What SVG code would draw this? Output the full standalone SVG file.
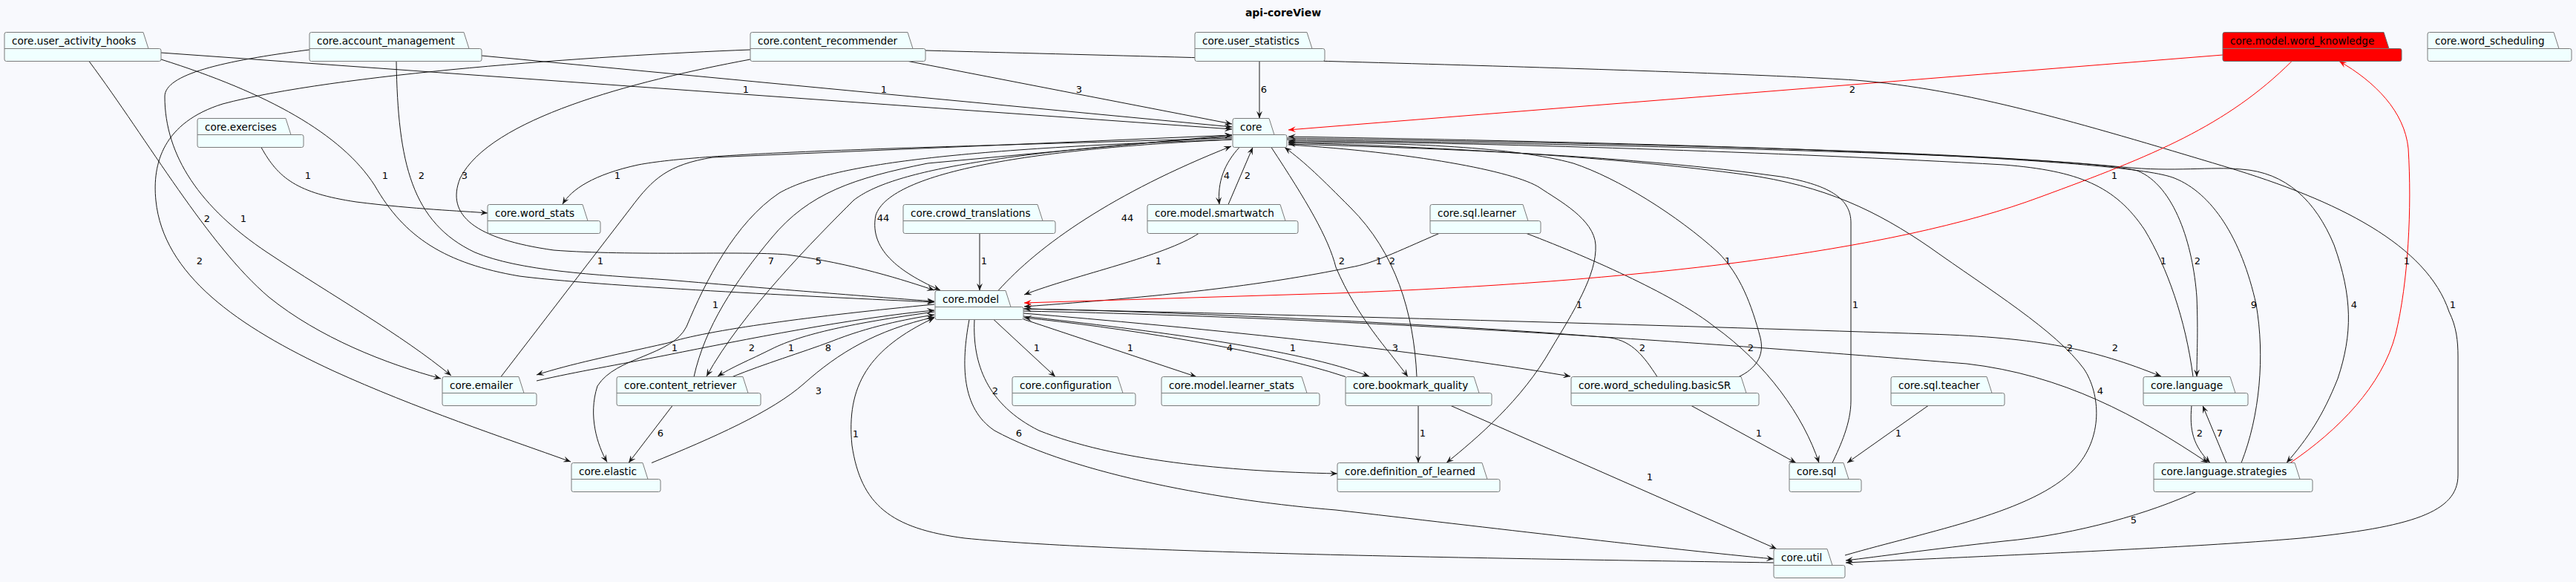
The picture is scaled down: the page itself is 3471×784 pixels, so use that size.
<svg xmlns="http://www.w3.org/2000/svg" width="3471" height="784" viewBox="0 0 3471 784">
<style>
.pk{fill:#F0FFFF;stroke:#7A7A7A;stroke-width:1}
.pkr{fill:#FF0000;stroke:#6A6A6A;stroke-width:1}
.sep{fill:none;stroke:#7A7A7A;stroke-width:1}
.t{font-family:"DejaVu Sans",sans-serif;font-size:13.6px;fill:#000}
.e{fill:none;stroke:#181818;stroke-width:1;marker-end:url(#a)}
.er{fill:none;stroke:#FF0000;stroke-width:1;marker-end:url(#ar)}
.l{font-family:"DejaVu Sans",sans-serif;font-size:13px;fill:#000;text-anchor:middle}
.title{font-family:"DejaVu Sans",sans-serif;font-size:14px;font-weight:bold;fill:#000;text-anchor:middle}
</style>
<defs>
<marker id="a" viewBox="0 0 10 8" refX="10" refY="4" markerWidth="10" markerHeight="8" markerUnits="userSpaceOnUse" orient="auto"><path d="M0,0L10,4L0,8L4,4Z" fill="#181818"/></marker>
<marker id="ar" viewBox="0 0 10 8" refX="10" refY="4" markerWidth="10" markerHeight="8" markerUnits="userSpaceOnUse" orient="auto"><path d="M0,0L10,4L0,8L4,4Z" fill="#FF0000"/></marker>
</defs>
<rect width="3471" height="784" fill="#F8F9FD"/>
<text class="title" x="1729" y="22">api-coreView</text>

<g id="connectors">
<path class="e" d="M217,71L1660,174"/><text class="l" x="1005" y="125">1</text>
<path class="e" d="M649,75L1660,171"/><text class="l" x="1191" y="125">1</text>
<path class="e" d="M1224,82.5L1660,167"/><text class="l" x="1454" y="125">3</text>
<path class="e" d="M1697,82.5L1697,159.5"/><text class="l" x="1703" y="125">6</text>
<path class="er" d="M2995,74L1736,175"/><text class="l" x="2496" y="125">2</text>
<path class="e" d="M1011,80C850,110 660,160 620,240C600,290 640,322 746,337C850,345 1000,338 1060,343C1150,355 1220,378 1259,391"/><text class="l" x="626" y="241">3</text>
<path class="e" d="M534,82.5C536,220 555,300 640,340C700,365 800,370 900,377C1050,390 1180,400 1259,406"/><text class="l" x="568" y="241">2</text>
<path class="e" d="M217,80C360,125 460,180 505,250C545,320 600,355 700,372C800,385 1100,400 1259,407"/><text class="l" x="519" y="241">1</text>
<path class="e" d="M120,82.5C200,190 280,330 362,400C430,455 520,490 594,510"/><text class="l" x="279" y="299">2</text>
<path class="e" d="M417,67C300,82 222,100 222,130C222,210 270,280 360,340C450,400 540,450 608,506"/><text class="l" x="328" y="299">1</text>
<path class="e" d="M1011,67C800,75 450,100 300,140C220,165 205,220 210,270C220,370 320,440 450,500C560,550 680,590 769,622"/><text class="l" x="269" y="356">2</text>
<path class="e" d="M352,198.5C375,240 400,260 480,272C560,282 620,284 657,287"/><text class="l" x="415" y="241">1</text>
<path class="e" d="M1660,186C1200,200 950,205 860,222C800,235 770,255 758,275"/><text class="l" x="832" y="241">1</text>
<path class="e" d="M675,507.5L850,280C880,240 900,222 960,212L1660,182"/><text class="l" x="809" y="356">1</text>
<path class="e" d="M1660,188C1300,200 1120,220 1050,260C990,300 950,380 925,440C905,480 830,480 805,520C792,560 805,600 818,622.5"/><text class="l" x="964" y="415">1</text>
<path class="e" d="M935,507.5C950,440 990,380 1040,320C1090,260 1150,240 1250,220L1660,182"/><text class="l" x="1039" y="356">7</text>
<path class="e" d="M1660,184C1350,205 1200,230 1150,270C1100,320 1000,420 952,507"/><text class="l" x="1103" y="356">5</text>
<path class="e" d="M1659,188C1400,200 1200,230 1180,290C1170,340 1220,370 1267,391"/><text class="l" x="1190" y="298">44</text>
<path class="e" d="M1345,391.5C1400,330 1500,260 1659,197"/><text class="l" x="1519" y="298">44</text>
<path class="e" d="M1320,314.5L1320,391.5"/><text class="l" x="1326" y="356">1</text>
<path class="e" d="M1615,314.5C1570,345 1450,370 1380,397"/><text class="l" x="1561" y="356">1</text>
<path class="e" d="M1670,198.5C1650,220 1640,245 1643,275.5"/><text class="l" x="1653" y="241">4</text>
<path class="e" d="M1655,275.5L1688,198.5"/><text class="l" x="1681" y="241">2</text>
<path class="e" d="M1939,314.5C1880,340 1850,355 1820,360C1700,385 1560,400 1380,413"/><text class="l" x="1858" y="356">1</text>
<path class="e" d="M1713,198.5C1760,270 1790,320 1800,360C1830,430 1870,470 1897,507.5"/><text class="l" x="1808" y="356">2</text>
<path class="e" d="M1909,507.5C1905,420 1880,340 1820,280C1780,240 1760,220 1731,198.5"/><text class="l" x="1876" y="356">2</text>
<path class="e" d="M1339,430.5L1422,507.5"/><text class="l" x="1397" y="473">1</text>
<path class="e" d="M1379,430L1612,507.5"/><text class="l" x="1523" y="473">1</text>
<path class="e" d="M1313,430.5C1310,490 1330,545 1400,580C1500,620 1650,635 1802,638"/><text class="l" x="1341" y="531">2</text>
<path class="e" d="M1306,430.5C1295,490 1295,550 1340,580C1450,640 1650,675 1800,687C2000,710 2250,740 2390,753"/><text class="l" x="1373" y="588">6</text>
<path class="e" d="M2390,758C2000,752 1500,745 1300,725C1200,712 1160,680 1148,600C1140,520 1170,470 1259,428"/><text class="l" x="1153" y="589">1</text>
<path class="e" d="M906,546.5L847,623.5"/><text class="l" x="890" y="588">6</text>
<path class="e" d="M878,623.5C960,590 1040,555 1083,517C1130,475 1180,445 1259,427"/><text class="l" x="1103" y="531">3</text>
<path class="e" d="M1259,410C1100,425 950,445 900,462C820,480 770,490 723,505"/><text class="l" x="909" y="473">1</text>
<path class="e" d="M723,513C780,500 830,492 900,478C1000,458 1150,428 1259,418"/><text class="l" x="1013" y="473">2</text>
<path class="e" d="M1259,420C1150,435 1080,450 1040,470C1010,485 985,495 967,507"/><text class="l" x="1066" y="473">1</text>
<path class="e" d="M987,507.5C1030,490 1080,475 1120,460C1170,440 1220,430 1259,424"/><text class="l" x="1116" y="473">8</text>
<path class="e" d="M1379,422C1600,440 1900,470 2116,507"/><text class="l" x="1880" y="473">3</text>
<path class="e" d="M1379,426C1550,445 1750,470 1845,507"/><text class="l" x="1742" y="473">1</text>
<path class="e" d="M1813,507.5C1700,470 1500,440 1380,428"/><text class="l" x="1657" y="473">4</text>
<path class="e" d="M2233,507.5C2215,480 2200,460 2170,455C2000,440 1600,420 1380,416"/><text class="l" x="2213" y="473">2</text>
<path class="e" d="M1379,416C1800,425 2300,440 2600,450C2750,455 2820,470 2912,507"/><text class="l" x="2850" y="473">2</text>
<path class="e" d="M1379,419C1900,430 2400,470 2650,490C2780,505 2880,560 2975,623.5"/><text class="l" x="2789" y="473">2</text>
<path class="e" d="M1734,188C2300,197 2800,210 2880,230C2930,250 2955,330 2960,400C2962,450 2960,480 2960,507.5"/><text class="l" x="2961" y="356">2</text>
<path class="e" d="M2955,507.5C2945,430 2920,360 2890,310C2850,250 2800,230 2700,222C2400,205 2000,192 1736,190"/><text class="l" x="2915" y="356">1</text>
<path class="e" d="M3020,623.5C3045,560 3052,480 3040,410C3020,320 2980,260 2930,240C2870,215 2400,195 1736,184"/><text class="l" x="3037" y="415">9</text>
<path class="e" d="M1734,186C2300,195 2650,205 2860,225C2930,232 2980,224 3020,228C3080,232 3120,270 3145,330C3170,400 3170,450 3150,510C3130,560 3110,590 3081,623.5"/><text class="l" x="3172" y="415">4</text>
<path class="e" d="M2486,748C2600,715 2740,690 2795,632C2835,590 2830,530 2808,497C2770,445 2680,390 2600,333C2530,285 2460,250 2350,235C2200,215 2000,200 1736,192"/><text class="l" x="2830" y="531">4</text>
<path class="e" d="M2469,623.5C2480,600 2494,570 2494,540L2494,300C2494,270 2470,250 2400,238C2200,210 1950,200 1736,194"/><text class="l" x="2500" y="415">1</text>
<path class="e" d="M2343,507.5C2365,497 2378,480 2372,455C2360,410 2345,370 2315,340C2260,290 2180,240 2120,220C2040,198 1900,192 1736,192"/><text class="l" x="2328" y="356">1</text>
<path class="e" d="M1736,195C1900,205 2040,230 2075,253C2100,270 2148,295 2150,330C2152,370 2120,420 2090,470C2050,540 1990,590 1949,623.5"/><text class="l" x="2128" y="415">1</text>
<path class="e" d="M2057,314.5C2150,350 2260,400 2310,440C2380,490 2430,560 2451,623.5"/><text class="l" x="2359" y="473">2</text>
<path class="e" d="M2279,546.5L2420,623.5"/><text class="l" x="2370" y="588">1</text>
<path class="e" d="M2598,546.5L2489,623.5"/><text class="l" x="2558" y="588">1</text>
<path class="e" d="M1911,546.5L1911,623.5"/><text class="l" x="1917" y="588">1</text>
<path class="e" d="M1955,546.5L2394,739.5"/><text class="l" x="2223" y="647">1</text>
<path class="e" d="M2959,662.5C2900,690 2800,720 2700,729C2600,740 2530,750 2487,755"/><text class="l" x="2875" y="705">5</text>
<path class="e" d="M1247,68C1700,80 2300,95 2500,108C2650,120 2800,165 3000,225C3150,270 3270,330 3300,420C3310,440 3312,460 3312,480L3312,640C3312,690 3250,710 3100,725C2950,738 2700,748 2487,758"/><text class="l" x="3305" y="415">1</text>
<path class="e" d="M2953,546.5C2950,580 2955,600 2978,623.5"/><text class="l" x="2964" y="588">2</text>
<path class="e" d="M3000,623.5L2968,546.5"/><text class="l" x="2991" y="588">7</text>
<path class="er" d="M3088,82.5C3000,170 2900,210 2750,265C2550,340 2200,380 1800,395L1380,408"/><text class="l" x="2849" y="241">1</text>
<path class="er" d="M3086,623.5C3150,580 3210,520 3228,450C3245,380 3250,280 3245,200C3240,150 3200,110 3152,82.5"/><text class="l" x="3243" y="356">1</text>
</g>

<g id="n-user_activity_hooks" transform="translate(6,43.5)"><path class="pk" d="M0,2.5Q0,0 2.5,0L187,0L194,22L208.5,22Q211,22 211,24.5L211,36.5Q211,39 208.5,39L2.5,39Q0,39 0,36.5Z"/><path class="sep" d="M0,22H194"/><text class="t" x="10" y="16">core.user_activity_hooks</text></g>
<g id="n-account_management" transform="translate(417,43.5)"><path class="pk" d="M0,2.5Q0,0 2.5,0L208,0L215,22L229.5,22Q232,22 232,24.5L232,36.5Q232,39 229.5,39L2.5,39Q0,39 0,36.5Z"/><path class="sep" d="M0,22H215"/><text class="t" x="10" y="16">core.account_management</text></g>
<g id="n-content_recommender" transform="translate(1011,43.5)"><path class="pk" d="M0,2.5Q0,0 2.5,0L212,0L219,22L233.5,22Q236,22 236,24.5L236,36.5Q236,39 233.5,39L2.5,39Q0,39 0,36.5Z"/><path class="sep" d="M0,22H219"/><text class="t" x="10" y="16">core.content_recommender</text></g>
<g id="n-user_statistics" transform="translate(1610,43.5)"><path class="pk" d="M0,2.5Q0,0 2.5,0L151,0L158,22L172.5,22Q175,22 175,24.5L175,36.5Q175,39 172.5,39L2.5,39Q0,39 0,36.5Z"/><path class="sep" d="M0,22H158"/><text class="t" x="10" y="16">core.user_statistics</text></g>
<g id="n-word_knowledge" transform="translate(2995,43.5)"><path class="pkr" d="M0,2.5Q0,0 2.5,0L217,0L224,22L238.5,22Q241,22 241,24.5L241,36.5Q241,39 238.5,39L2.5,39Q0,39 0,36.5Z"/><path class="sep" d="M0,22H224" stroke="#6A6A6A"/><text class="t" x="10" y="16">core.model.word_knowledge</text></g>
<g id="n-word_scheduling" transform="translate(3271,43.5)"><path class="pk" d="M0,2.5Q0,0 2.5,0L170,0L177,22L191.5,22Q194,22 194,24.5L194,36.5Q194,39 191.5,39L2.5,39Q0,39 0,36.5Z"/><path class="sep" d="M0,22H177"/><text class="t" x="10" y="16">core.word_scheduling</text></g>
<g id="n-exercises" transform="translate(266,159.5)"><path class="pk" d="M0,2.5Q0,0 2.5,0L119,0L126,22L140.5,22Q143,22 143,24.5L143,36.5Q143,39 140.5,39L2.5,39Q0,39 0,36.5Z"/><path class="sep" d="M0,22H126"/><text class="t" x="10" y="16">core.exercises</text></g>
<g id="n-core" transform="translate(1661,159.5)"><path class="pk" d="M0,2.5Q0,0 2.5,0L49,0L56,22L70.5,22Q73,22 73,24.5L73,36.5Q73,39 70.5,39L2.5,39Q0,39 0,36.5Z"/><path class="sep" d="M0,22H56"/><text class="t" x="10" y="16">core</text></g>
<g id="n-word_stats" transform="translate(657,275.5)"><path class="pk" d="M0,2.5Q0,0 2.5,0L128,0L135,22L149.5,22Q152,22 152,24.5L152,36.5Q152,39 149.5,39L2.5,39Q0,39 0,36.5Z"/><path class="sep" d="M0,22H135"/><text class="t" x="10" y="16">core.word_stats</text></g>
<g id="n-crowd_translations" transform="translate(1217,275.5)"><path class="pk" d="M0,2.5Q0,0 2.5,0L181,0L188,22L202.5,22Q205,22 205,24.5L205,36.5Q205,39 202.5,39L2.5,39Q0,39 0,36.5Z"/><path class="sep" d="M0,22H188"/><text class="t" x="10" y="16">core.crowd_translations</text></g>
<g id="n-smartwatch" transform="translate(1546,275.5)"><path class="pk" d="M0,2.5Q0,0 2.5,0L179,0L186,22L200.5,22Q203,22 203,24.5L203,36.5Q203,39 200.5,39L2.5,39Q0,39 0,36.5Z"/><path class="sep" d="M0,22H186"/><text class="t" x="10" y="16">core.model.smartwatch</text></g>
<g id="n-sql_learner" transform="translate(1927,275.5)"><path class="pk" d="M0,2.5Q0,0 2.5,0L125,0L132,22L146.5,22Q149,22 149,24.5L149,36.5Q149,39 146.5,39L2.5,39Q0,39 0,36.5Z"/><path class="sep" d="M0,22H132"/><text class="t" x="10" y="16">core.sql.learner</text></g>
<g id="n-model" transform="translate(1260,391.5)"><path class="pk" d="M0,2.5Q0,0 2.5,0L95,0L102,22L116.5,22Q119,22 119,24.5L119,36.5Q119,39 116.5,39L2.5,39Q0,39 0,36.5Z"/><path class="sep" d="M0,22H102"/><text class="t" x="10" y="16">core.model</text></g>
<g id="n-emailer" transform="translate(596,507.5)"><path class="pk" d="M0,2.5Q0,0 2.5,0L103,0L110,22L124.5,22Q127,22 127,24.5L127,36.5Q127,39 124.5,39L2.5,39Q0,39 0,36.5Z"/><path class="sep" d="M0,22H110"/><text class="t" x="10" y="16">core.emailer</text></g>
<g id="n-content_retriever" transform="translate(831,507.5)"><path class="pk" d="M0,2.5Q0,0 2.5,0L170,0L177,22L191.5,22Q194,22 194,24.5L194,36.5Q194,39 191.5,39L2.5,39Q0,39 0,36.5Z"/><path class="sep" d="M0,22H177"/><text class="t" x="10" y="16">core.content_retriever</text></g>
<g id="n-configuration" transform="translate(1364,507.5)"><path class="pk" d="M0,2.5Q0,0 2.5,0L142,0L149,22L163.5,22Q166,22 166,24.5L166,36.5Q166,39 163.5,39L2.5,39Q0,39 0,36.5Z"/><path class="sep" d="M0,22H149"/><text class="t" x="10" y="16">core.configuration</text></g>
<g id="n-learner_stats" transform="translate(1565,507.5)"><path class="pk" d="M0,2.5Q0,0 2.5,0L189,0L196,22L210.5,22Q213,22 213,24.5L213,36.5Q213,39 210.5,39L2.5,39Q0,39 0,36.5Z"/><path class="sep" d="M0,22H196"/><text class="t" x="10" y="16">core.model.learner_stats</text></g>
<g id="n-bookmark_quality" transform="translate(1813,507.5)"><path class="pk" d="M0,2.5Q0,0 2.5,0L173,0L180,22L194.5,22Q197,22 197,24.5L197,36.5Q197,39 194.5,39L2.5,39Q0,39 0,36.5Z"/><path class="sep" d="M0,22H180"/><text class="t" x="10" y="16">core.bookmark_quality</text></g>
<g id="n-basicSR" transform="translate(2117,507.5)"><path class="pk" d="M0,2.5Q0,0 2.5,0L229,0L236,22L250.5,22Q253,22 253,24.5L253,36.5Q253,39 250.5,39L2.5,39Q0,39 0,36.5Z"/><path class="sep" d="M0,22H236"/><text class="t" x="10" y="16">core.word_scheduling.basicSR</text></g>
<g id="n-sql_teacher" transform="translate(2548,507.5)"><path class="pk" d="M0,2.5Q0,0 2.5,0L129,0L136,22L150.5,22Q153,22 153,24.5L153,36.5Q153,39 150.5,39L2.5,39Q0,39 0,36.5Z"/><path class="sep" d="M0,22H136"/><text class="t" x="10" y="16">core.sql.teacher</text></g>
<g id="n-language" transform="translate(2888,507.5)"><path class="pk" d="M0,2.5Q0,0 2.5,0L117,0L124,22L138.5,22Q141,22 141,24.5L141,36.5Q141,39 138.5,39L2.5,39Q0,39 0,36.5Z"/><path class="sep" d="M0,22H124"/><text class="t" x="10" y="16">core.language</text></g>
<g id="n-elastic" transform="translate(770,623.5)"><path class="pk" d="M0,2.5Q0,0 2.5,0L96,0L103,22L117.5,22Q120,22 120,24.5L120,36.5Q120,39 117.5,39L2.5,39Q0,39 0,36.5Z"/><path class="sep" d="M0,22H103"/><text class="t" x="10" y="16">core.elastic</text></g>
<g id="n-definition_of_learned" transform="translate(1802,623.5)"><path class="pk" d="M0,2.5Q0,0 2.5,0L195,0L202,22L216.5,22Q219,22 219,24.5L219,36.5Q219,39 216.5,39L2.5,39Q0,39 0,36.5Z"/><path class="sep" d="M0,22H202"/><text class="t" x="10" y="16">core.definition_of_learned</text></g>
<g id="n-sql" transform="translate(2411,623.5)"><path class="pk" d="M0,2.5Q0,0 2.5,0L73,0L80,22L94.5,22Q97,22 97,24.5L97,36.5Q97,39 94.5,39L2.5,39Q0,39 0,36.5Z"/><path class="sep" d="M0,22H80"/><text class="t" x="10" y="16">core.sql</text></g>
<g id="n-language_strategies" transform="translate(2902,623.5)"><path class="pk" d="M0,2.5Q0,0 2.5,0L190,0L197,22L211.5,22Q214,22 214,24.5L214,36.5Q214,39 211.5,39L2.5,39Q0,39 0,36.5Z"/><path class="sep" d="M0,22H197"/><text class="t" x="10" y="16">core.language.strategies</text></g>
<g id="n-util" transform="translate(2390,739.5)"><path class="pk" d="M0,2.5Q0,0 2.5,0L72,0L79,22L93.5,22Q96,22 96,24.5L96,36.5Q96,39 93.5,39L2.5,39Q0,39 0,36.5Z"/><path class="sep" d="M0,22H79"/><text class="t" x="10" y="16">core.util</text></g>
</svg>
